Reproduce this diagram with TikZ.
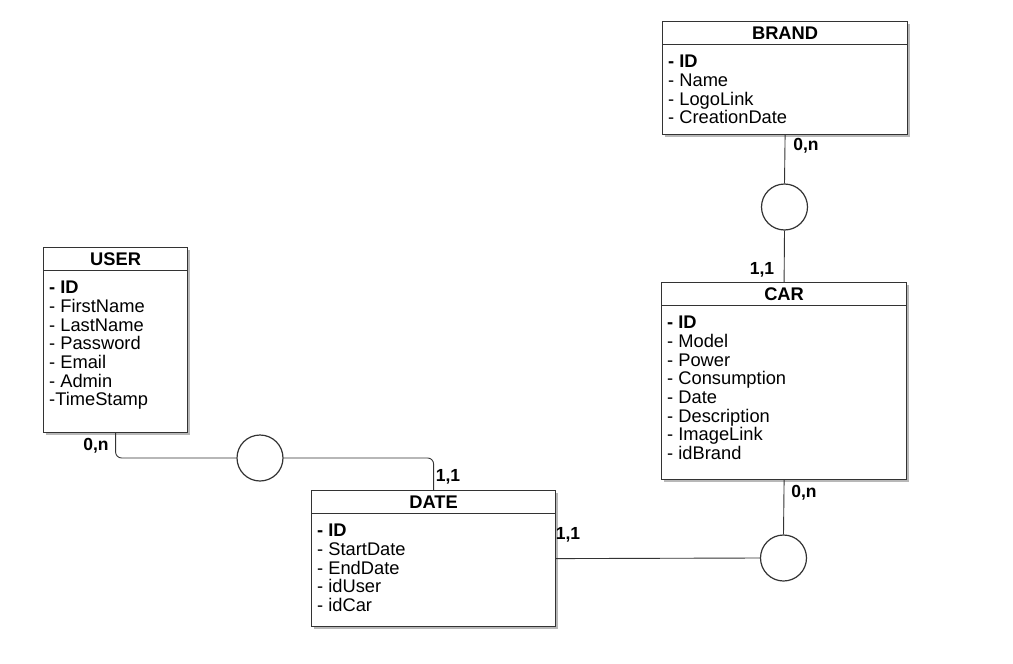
\documentclass[tikz,border=0pt]{standalone}
\usepackage{fontspec}
\setmainfont{Liberation Sans}
\usetikzlibrary{shadows}
\definecolor{ln}{HTML}{333333}
\tikzset{
  ebox/.style={draw=ln, line width=1.2pt, fill=white, rectangle, inner sep=0pt,
    drop shadow={shadow xshift=2.5pt, shadow yshift=-2.5pt, opacity=0.28, fill=black}},
  boxline/.style={draw=ln, line width=1.1pt},
  ttl/.style={font=\fontsize{18.3}{20}\selectfont\bfseries, inner sep=0pt},
  attr/.style={font=\fontsize{18.3}{20}\selectfont, inner sep=0pt},
  rel/.style={circle, draw=ln, line width=1.2pt, fill=white, minimum size=46pt, inner sep=0pt},
  conn/.style={draw=ln, line width=0.9pt},
  card/.style={font=\fontsize{17.5}{19}\selectfont\bfseries, inner sep=0pt}
}
\newcommand\entity[7]{%
  \node[ebox, minimum width=#4pt, minimum height=#5pt, anchor=north west] (#1) at (#2pt,-#3pt) {};
  \draw[boxline] ([yshift=-23.5pt]#1.north west) -- ([yshift=-23.5pt]#1.north east);
  \node[ttl] (#1-t) at ([yshift=-12pt]#1.north) {#6};
  \foreach \t [count=\i] in {#7}
    \node[attr, anchor=base west] (#1-\i) at ([xshift=6pt, yshift={-28pt-\i*18.7pt}]#1.north west) {\t};
}
\begin{document}
\begin{tikzpicture}[x=1pt,y=1pt]
\useasboundingbox (0,0) rectangle (1013,-664);
\entity{brand}{662}{21}{245}{113}{BRAND}{{\textbf{- ID}},- Name,- LogoLink,- CreationDate}
\entity{user}{43}{247}{144}{185}{USER}{{\textbf{- ID}},- FirstName,- LastName,- Password,- Email,- Admin,-TimeStamp}
\entity{date}{311}{490}{244}{136}{DATE}{{\textbf{- ID}},- StartDate,- EndDate,- idUser,- idCar}
\entity{car}{661}{282}{245}{197}{CAR}{{\textbf{- ID}},- Model,- Power,- Consumption,- Date,- Description,- ImageLink,- idBrand}

\node[rel] (c1) at (784.5,-207) {};
\node[rel] (c2) at (260,-458) {};
\node[rel] (c3) at (783.5,-558) {};

\draw[conn] (brand.south) -- (c1.north);
\draw[conn] (c1.south) -- (car.north);
\draw[conn, rounded corners=6pt] (user.south) |- (c2.west);
\draw[conn, rounded corners=6pt] (c2.east) -| (date.north);
\draw[conn] (date.east) -- (c3.west);
\draw[conn] (car.south) -- (c3.north);

\node[card] (l1) at (806,-146) {0,n};
\node[card] (l2) at (762,-270) {1,1};
\node[card] (l3) at (96,-446) {0,n};
\node[card] (l4) at (448,-477) {1,1};
\node[card] (l5) at (568,-535) {1,1};
\node[card] (l6) at (804,-493) {0,n};
\end{tikzpicture}
\end{document}
